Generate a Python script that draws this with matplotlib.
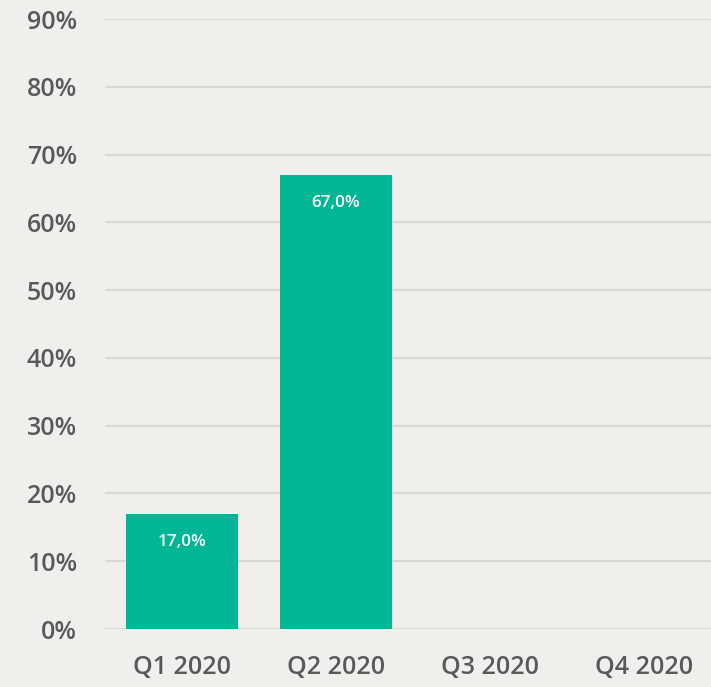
import numpy as np
import matplotlib.pyplot as plt

# Datos del gráfico
trimestres = ["Q1 2020", "Q2 2020", "Q3 2020", "Q4 2020"]
valores = [17.0, 67.0, np.nan, np.nan]
ticks_y = [0, 10, 20, 30, 40, 50, 60, 70, 80, 90]

fondo = "#f0efeb"
verde = "#00b694"
gris = "#595959"

plt.rcParams['font.family'] = ['Open Sans', 'DejaVu Sans']

fig = plt.figure(figsize=(7.11, 6.87), dpi=100, facecolor=fondo)
ax = fig.add_axes([0.1477, 0.0844, 0.8523, 0.8879], facecolor=fondo)

x = np.arange(len(trimestres))
ax.bar(x, np.nan_to_num(valores), width=0.727, color=verde, zorder=3)

# Etiquetas dentro de las barras
for xi, v in zip(x, valores):
    if np.isnan(v):
        continue
    ax.annotate(f"{v:.1f}%".replace(".", ","), (xi, v), xytext=(0, -28),
                textcoords="offset pixels",
                ha="center", va="center", color="white", fontsize=12.3,
                fontweight="semibold", zorder=4)

ax.set_xlim(-0.5, 3.435)
ax.set_ylim(0, 90)
ax.set_yticks(ticks_y)
ax.set_yticklabels([f"{t}%" for t in ticks_y])
ax.set_xticks(x)
ax.set_xticklabels(trimestres)

ax.grid(axis="y", color="#dad9d5", linewidth=1.6, zorder=0)
ax.tick_params(axis="both", length=0, labelsize=18, colors=gris)
ax.tick_params(axis="y", pad=20)
ax.tick_params(axis="x", pad=19)
for lbl in ax.get_xticklabels() + ax.get_yticklabels():
    lbl.set_fontweight("semibold")
for s in ax.spines.values():
    s.set_visible(False)

fig.savefig("out.png", dpi=100, facecolor=fondo)
